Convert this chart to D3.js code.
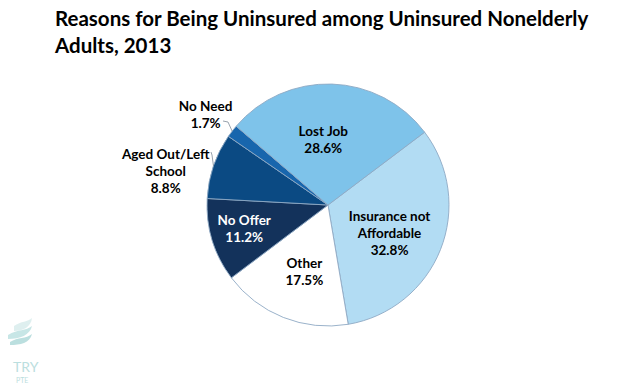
<!DOCTYPE html>
<html>
<head>
<meta charset="utf-8">
<script src="https://cdn.jsdelivr.net/npm/d3@7"></script>
<style>
  body { margin: 0; background: #fff; }
  svg { display: block; }
  text { font-family: Lato, "Open Sans", sans-serif; font-weight: bold; }
</style>
</head>
<body>
<div id="chart"></div>
<script>
// reasons (clockwise, starting at the Insurance slice)
var categories = ["Insurance not Affordable", "Other", "No Offer", "Aged Out/Left School", "No Need", "Lost Job"];
var values = [32.8, 17.5, 11.2, 8.8, 1.7, 28.6];
var labelLines = [["Insurance not", "Affordable", "32.8%"], ["Other", "17.5%"], ["No Offer", "11.2%"],
                  ["Aged Out/Left", "School", "8.8%"], ["No Need", "1.7%"], ["Lost Job", "28.6%"]];
var colors = ["#b2dcf3", "#ffffff", "#13325b", "#0b4a83", "#1866ad", "#7ec3ea"];
var textColors = ["#000", "#000", "#fff", "#000", "#000", "#000"];

var width = 632, height = 390;
var cx = 328, cy = 205, radius = 121;

var svg = d3.select("#chart").append("svg")
  .attr("width", width)
  .attr("height", height);

// title
var title = svg.append("text")
  .attr("x", 55)
  .attr("y", 26)
  .style("font-size", "20.5px")
  .style("fill", "#000");
title.append("tspan").attr("x", 55).attr("dy", 0).text("Reasons for Being Uninsured among Uninsured Nonelderly");
title.append("tspan").attr("x", 55).attr("dy", 27).text("Adults, 2013");

var data = categories.map(function (c, i) {
  return { name: c, value: values[i], lines: labelLines[i], color: colors[i], tcol: textColors[i] };
});

var startA = 53 * Math.PI / 180;
var pie = d3.pie()
  .value(function (d) { return d.value; })
  .sort(null)
  .startAngle(startA)
  .endAngle(startA + 2 * Math.PI);

var arc = d3.arc().innerRadius(0).outerRadius(radius);

var g = svg.append("g").attr("transform", "translate(" + cx + "," + cy + ")");
var arcs = pie(data);

g.selectAll("path.slice")
  .data(arcs)
  .enter()
  .append("path")
  .attr("class", "slice")
  .attr("d", arc)
  .style("fill", function (d) { return d.data.color; })
  .style("stroke", "#8ea9c4")
  .style("stroke-width", 0.9);

// label radius (fraction of pie radius) and small angle nudges, per slice
var labelR = [0.56, 0.58, 0.72, 1.37, 1.26, 0.54];
var labelTurn = [3, -2, 1, -7, -1, -6];

var lineH = 17;
var labels = g.selectAll("text.lab")
  .data(arcs)
  .enter()
  .append("text")
  .attr("class", "lab")
  .attr("text-anchor", "middle")
  .style("font-size", "13.5px")
  .style("fill", function (d) { return d.data.tcol; })
  .attr("transform", function (d, i) {
    var a = (d.startAngle + d.endAngle) / 2 + labelTurn[i] * Math.PI / 180;
    var r = radius * labelR[i];
    var x = r * Math.sin(a), y = -r * Math.cos(a);
    var n = d.data.lines.length;
    return "translate(" + x + "," + (y - (n - 1) * lineH / 2 + 5) + ")";
  });

labels.selectAll("tspan")
  .data(function (d) { return d.data.lines; })
  .enter()
  .append("tspan")
  .attr("x", 0)
  .attr("dy", function (d, i) { return i === 0 ? 0 : lineH; })
  .text(function (d) { return d; });

// leader lines for the two small outside labels
var leaders = [
  { i: 4, pts: function (p) { return [[-105, -84], [-100, -83], [p[0], p[1]]]; } },
  { i: 3, pts: function (p) { return [[-117, -53], [-116, -50], [p[0], p[1]]]; } }
];
leaders.forEach(function (l) {
  var d = arcs[l.i];
  var a = (d.startAngle + d.endAngle) / 2;
  var p = [radius * Math.sin(a), -radius * Math.cos(a)];
  g.append("path")
    .attr("d", d3.line()(l.pts(p)))
    .style("fill", "none")
    .style("stroke", "#7f8c99")
    .style("stroke-width", 0.8);
});

// faint watermark, bottom left
var wm = svg.append("g").attr("transform", "translate(6,318)").style("opacity", 0.6);
wm.append("path").attr("d", "M8,8 C15,3 22,4 26,0 C25,9 17,13 8,13 Z").style("fill", "#c9e6e6");
wm.append("path").attr("d", "M2,17 C12,11 20,13 26,8 C24,17 14,21 2,21 Z").style("fill", "#a3d6d6");
wm.append("path").attr("d", "M4,24 C12,19 20,21 26,16 C24,25 14,27 4,27 Z").style("fill", "#8fcaca");
wm.append("text").attr("x", 7).attr("y", 54).text("TRY")
  .style("font-size", "14px").style("font-weight", "normal").style("fill", "#8fcaca");
wm.append("text").attr("x", 10).attr("y", 65).text("PTE")
  .style("font-size", "7px").style("font-weight", "normal").style("fill", "#8fcaca");
</script>
</body>
</html>
